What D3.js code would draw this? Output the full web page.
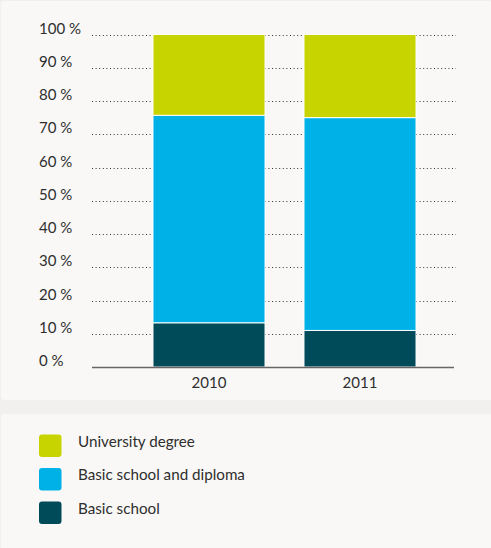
<!DOCTYPE html>
<html>
<head>
<meta charset="utf-8">
<script src="https://cdn.jsdelivr.net/npm/d3@7"></script>
<style>
  html, body { margin: 0; padding: 0; background: #f1f0ee; }
  svg { display: block; }
  text { font-family: "Lato", "Open Sans", sans-serif; fill: #2e2e2e; }
</style>
</head>
<body>
<svg id="chart" width="491" height="548"></svg>
<script>
// Education level shares by year (percent)
const years = ["2010", "2011"];
const basicSchool = [13.3, 11.0];
const basicDiploma = [62.4, 64.0];
const university = [24.3, 25.0];
const seriesNames = ["Basic school", "Basic school and diploma", "University degree"];
const seriesColors = ["#004b5a", "#00b1e8", "#c8d400"];
const yTicks = [0, 10, 20, 30, 40, 50, 60, 70, 80, 90, 100];

const svg = d3.select("#chart");

// background panels
svg.append("rect").attr("x", 1).attr("y", 1).attr("width", 492).attr("height", 399)
  .attr("rx", 4).attr("fill", "#f9f8f6");
svg.append("rect").attr("x", 1).attr("y", 414).attr("width", 492).attr("height", 140)
  .attr("rx", 4).attr("fill", "#f9f8f6");

const rows = years.map((y, i) => ({
  year: y,
  "Basic school": basicSchool[i],
  "Basic school and diploma": basicDiploma[i],
  "University degree": university[i]
}));
const stacked = d3.stack().keys(seriesNames)(rows);

const x = d3.scaleBand().domain(years).range([133.5, 435.5]).paddingInner(0.258).paddingOuter(0.129);
const y = d3.scaleLinear().domain([0, 100]).range([367, 34.5]);

// dotted gridlines
svg.append("g").selectAll("line").data(yTicks.filter(d => d > 0)).join("line")
  .attr("x1", 92).attr("x2", 456)
  .attr("y1", d => Math.round(y(d)) + 0.5).attr("y2", d => Math.round(y(d)) + 0.5)
  .attr("stroke", "#333").attr("stroke-width", 1).attr("stroke-dasharray", "1,2.6");

// y labels
svg.append("g").selectAll("text").data(yTicks).join("text")
  .attr("x", 39).attr("y", d => y(d) - 1)
  .attr("font-size", 15)
  .text(d => d + " %");

// stacked bars
stacked.forEach((s, si) => {
  svg.append("g").selectAll("rect").data(s).join("rect")
    .attr("x", d => x(d.data.year))
    .attr("width", x.bandwidth())
    .attr("y", d => y(d[1]))
    .attr("height", d => y(d[0]) - y(d[1]))
    .attr("fill", seriesColors[si])
    .attr("stroke", "#ffffff").attr("stroke-width", 1);
});

// baseline
svg.append("line").attr("x1", 92).attr("x2", 454).attr("y1", 367.5).attr("y2", 367.5)
  .attr("stroke", "#666").attr("stroke-width", 1.5);

// x labels
svg.append("g").selectAll("text").data(years).join("text")
  .attr("x", d => x(d) + x.bandwidth() / 2).attr("y", 388)
  .attr("text-anchor", "middle").attr("font-size", 15)
  .text(d => d);

// legend
const legendItems = seriesNames.map((n, i) => ({ name: n, color: seriesColors[i] })).reverse();
const lg = svg.append("g").selectAll("g").data(legendItems).join("g")
  .attr("transform", (d, i) => `translate(39, ${434.5 + i * 33.5})`);
lg.append("rect").attr("width", 22.5).attr("height", 22.5).attr("rx", 3)
  .attr("fill", d => d.color);
lg.append("text").attr("x", 39).attr("y", 12).attr("font-size", 15.2)
  .text(d => d.name);
</script>
</body>
</html>
